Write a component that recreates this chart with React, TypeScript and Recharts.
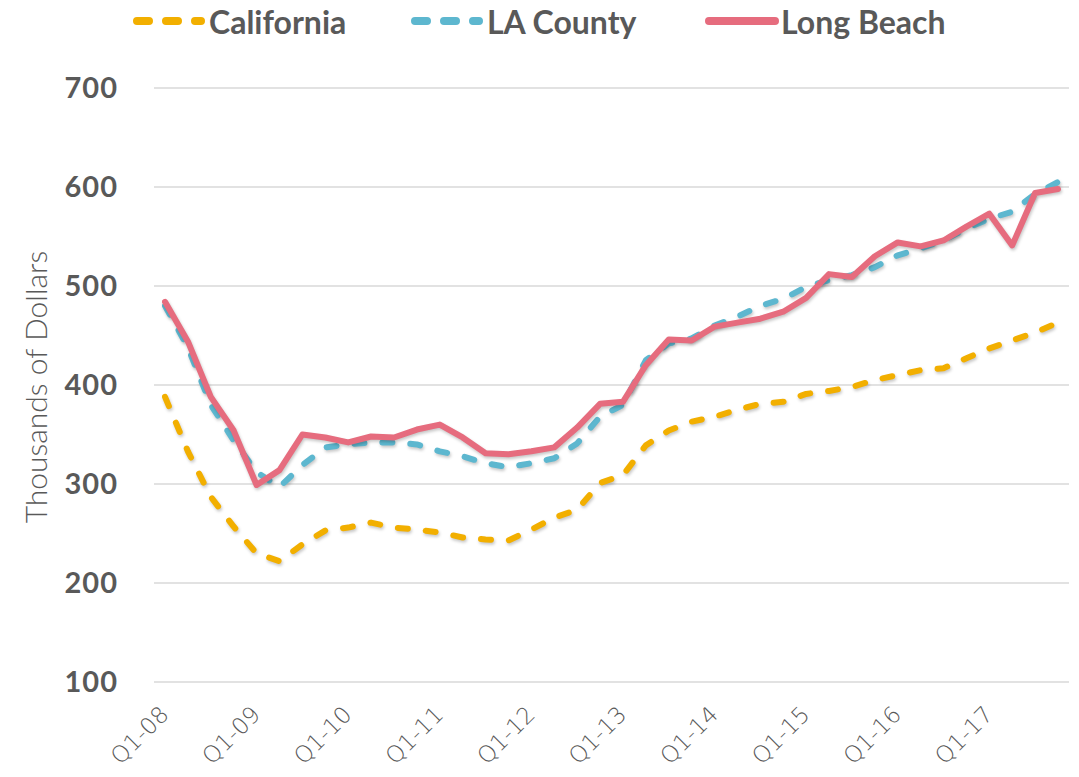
import { LineChart, Line, XAxis, YAxis, CartesianGrid } from "recharts"

const years = ["08", "09", "10", "11", "12", "13", "14", "15", "16", "17"]
const quarters = years.flatMap((y) => [1, 2, 3, 4].map((q) => `Q${q}-${y}`))

// thousands of dollars, Q1-08 .. Q4-17
const california = [388, 333, 287, 257, 230, 222, 239, 253, 256, 261, 256, 254, 251, 246, 244, 243, 254, 266, 274, 301, 309, 339, 354, 363, 368, 375, 381, 383, 391, 394, 398, 405, 410, 415, 417, 427, 437, 445, 453, 463]
const laCounty = [480, 438, 380, 344, 312, 297, 319, 337, 340, 342, 342, 340, 333, 328, 321, 317, 321, 326, 341, 368, 380, 425, 442, 447, 460, 469, 480, 487, 499, 506, 511, 519, 531, 538, 546, 558, 568, 575, 593, 605]
const longBeach = [484, 444, 388, 354, 299, 314, 350, 347, 342, 348, 347, 355, 360, 347, 331, 330, 333, 337, 357, 381, 383, 420, 446, 445, 459, 463, 467, 474, 488, 512, 509, 530, 544, 540, 546, 560, 573, 541, 594, 598]
const yTicks = [100, 200, 300, 400, 500, 600, 700]

const series = [
  { key: "california", name: "California", color: "#F2AF00", dashed: true, left: 129 },
  { key: "la", name: "LA County", color: "#5DB7CF", dashed: true, left: 407 },
  { key: "lb", name: "Long Beach", color: "#E66C7E", dashed: false, left: 701 },
]

const data = quarters.map((q, i) => ({
  q,
  california: california[i],
  la: laCounty[i],
  lb: longBeach[i],
}))

const GREY = "#595959"

function XTick({ x, y, payload }: any) {
  const tx = x + 5
  return (
    <text
      x={tx}
      y={y}
      transform={`rotate(-45 ${tx} ${y})`}
      textAnchor="end"
      fill={GREY}
      fontSize={23}
      fontWeight={200}
      fontFamily="DejaVu Sans"
    >
      {payload.value}
    </text>
  )
}

function YLabel({ viewBox }: any) {
  const cx = 35
  const cy = viewBox.y + viewBox.height / 2 + 2
  return (
    <text
      x={cx}
      y={cy}
      transform={`rotate(-90 ${cx} ${cy})`}
      textAnchor="middle"
      dominantBaseline="central"
      fill={GREY}
      fontSize={30}
      fontWeight={300}
      fontFamily="Lato"
    >
      Thousands of Dollars
    </text>
  )
}

function LegendRow() {
  return (
    <div style={{ position: "absolute", top: 0, left: 0, width: 1079, height: 44 }}>
      {series.map((s) => (
        <div
          key={s.key}
          style={{
            position: "absolute",
            left: s.left,
            top: 0,
            height: 42,
            display: "flex",
            alignItems: "center",
            fontFamily: "Lato",
            fontWeight: 700,
            fontSize: 32,
            color: GREY,
            whiteSpace: "nowrap",
          }}
        >
          <svg width={80} height={12}>
            <line
              x1={8}
              y1={6}
              x2={s.dashed ? 72 : 74}
              y2={6}
              stroke={s.color}
              strokeWidth={8}
              strokeLinecap="round"
              strokeDasharray={s.dashed ? "12 17" : undefined}
            />
          </svg>
          <span>{s.name}</span>
        </div>
      ))}
    </div>
  )
}

export default function App() {
  return (
    <div style={{ position: "absolute", left: 0, top: 0, width: 1079, height: 777, background: "#fff", overflow: "hidden" }}>
      <style>{`.recharts-line-curve { filter: drop-shadow(1px 2px 1.5px rgba(0,0,0,0.22)); }`}</style>
      <LineChart
        width={1079}
        height={777}
        data={data}
        margin={{ top: 88, right: 10, bottom: 15, left: 0 }}
      >
        <CartesianGrid vertical={false} stroke="#D9D9D9" strokeWidth={1.5} />
        <XAxis
          dataKey="q"
          interval={3}
          height={80}
          axisLine={false}
          tickLine={false}
          tickSize={0}
          tickMargin={34}
          padding={{ left: 11, right: 11 }}
          tick={<XTick />}
        />
        <YAxis
          domain={[100, 700]}
          ticks={yTicks}
          width={154}
          axisLine={false}
          tickLine={false}
          tickSize={0}
          tickMargin={36}
          tick={{ fill: GREY, fontSize: 29, fontWeight: 700, fontFamily: "Lato", letterSpacing: 1 }}
          label={<YLabel />}
        />
        {series.map((s) => (
          <Line
            key={s.key}
            dataKey={s.key}
            name={s.name}
            stroke={s.color}
            strokeWidth={6}
            strokeLinecap="round"
            strokeLinejoin="round"
            strokeDasharray={s.dashed ? "10 18" : undefined}
            dot={false}
            activeDot={false}
            type="linear"
            isAnimationActive={false}
          />
        ))}
      </LineChart>
      <LegendRow />
    </div>
  )
}
